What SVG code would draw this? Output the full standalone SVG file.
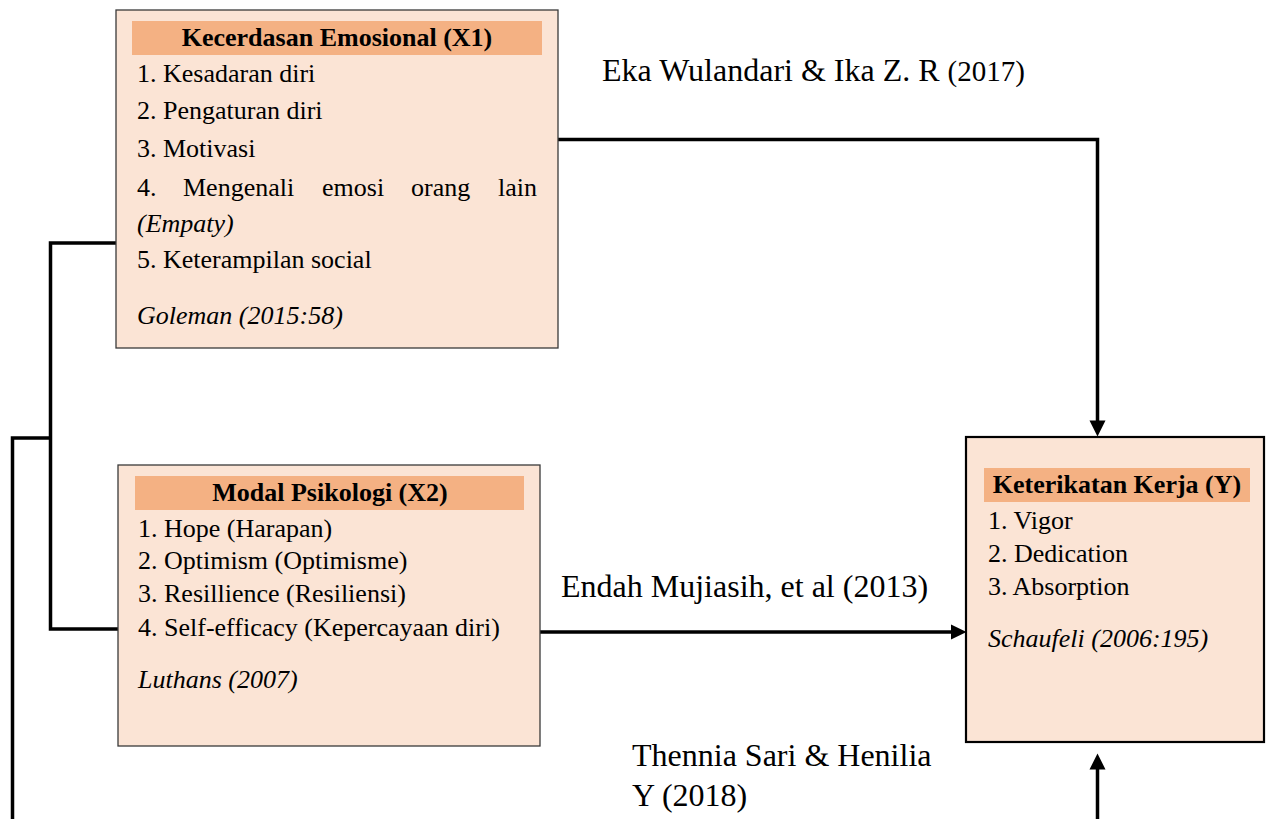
<svg xmlns="http://www.w3.org/2000/svg" width="1266" height="819" viewBox="0 0 1266 819">
  <defs>
    <style>
      text { font-family: "Liberation Serif", "Times New Roman", serif; fill: #000; }
      .box { fill: #FBE4D5; stroke: #3a3a3a; stroke-width: 1.3; }
      .boxy { fill: #FBE4D5; stroke: #000; stroke-width: 2.2; }
      .hdr { fill: #F4B183; stroke: none; }
      .title { font-size: 26px; font-weight: bold; text-anchor: middle; }
      .item { font-size: 26px; }
      .it { font-style: italic; }
      .lbl { font-size: 32px; }
      .conn { fill: none; stroke: #000; stroke-width: 3.5; stroke-linejoin: miter; stroke-linecap: butt; }
      .ah { fill: #000; stroke: none; }
    </style>
  </defs>
  <rect x="0" y="0" width="1266" height="819" fill="#fff"/>

  <g id="connectors">
    <polyline class="conn" points="116,243 50.5,243 50.5,629 118,629"/>
    <polyline class="conn" points="50.5,438 12.5,438 12.5,819"/>
    <polyline class="conn" points="558,139.5 1097.5,139.5 1097.5,422"/>
    <polygon class="ah" points="1089.5,420.5 1105.5,420.5 1097.5,436.5"/>
    <line class="conn" x1="540" y1="632" x2="952" y2="632"/>
    <polygon class="ah" points="951,624.5 951,639.5 966.5,632"/>
    <line class="conn" x1="1097.5" y1="819" x2="1097.5" y2="768"/>
    <polygon class="ah" points="1089.5,769.5 1105.5,769.5 1097.5,753.5"/>
  </g>

  <g id="node-x1">
    <rect class="box" x="116" y="10" width="442" height="338"/>
    <rect class="hdr" x="132" y="21" width="410" height="34"/>
    <text class="title" x="337" y="46">Kecerdasan Emosional (X1)</text>
    <text class="item" x="137" y="82">1. Kesadaran diri</text>
    <text class="item" x="137" y="119">2. Pengaturan diri</text>
    <text class="item" x="137" y="157">3. Motivasi</text>
    <text class="item" y="196"><tspan x="137">4.</tspan><tspan x="183">Mengenali</tspan><tspan x="322">emosi</tspan><tspan x="411">orang</tspan><tspan x="498">lain</tspan></text>
    <text class="item it" x="137" y="232">(Empaty)</text>
    <text class="item" x="137" y="268">5. Keterampilan social</text>
    <text class="item it" x="137" y="324">Goleman (2015:58)</text>
  </g>

  <g id="node-x2">
    <rect class="box" x="118" y="465" width="422" height="281"/>
    <rect class="hdr" x="135" y="476" width="389" height="34"/>
    <text class="title" x="330" y="501">Modal Psikologi (X2)</text>
    <text class="item" x="138" y="537">1. Hope (Harapan)</text>
    <text class="item" x="138" y="569">2. Optimism (Optimisme)</text>
    <text class="item" x="138" y="602">3. Resillience (Resiliensi)</text>
    <text class="item" x="138" y="636">4. Self-efficacy (Kepercayaan diri)</text>
    <text class="item it" x="138" y="688">Luthans (2007)</text>
  </g>

  <g id="node-y">
    <rect class="boxy" x="966" y="437" width="298" height="305"/>
    <rect class="hdr" x="984" y="468" width="266" height="34"/>
    <text class="title" x="1117" y="493">Keterikatan Kerja (Y)</text>
    <text class="item" x="988" y="529">1. Vigor</text>
    <text class="item" x="988" y="562">2. Dedication</text>
    <text class="item" x="988" y="595">3. Absorption</text>
    <text class="item it" x="988" y="647">Schaufeli (2006:195)</text>
  </g>

  <g id="labels">
    <text class="lbl" x="602" y="81">Eka Wulandari &amp; Ika Z. R <tspan font-size="29">(2017)</tspan></text>
    <text class="lbl" x="561" y="597">Endah Mujiasih, et al (2013)</text>
    <text class="lbl" x="632" y="766">Thennia Sari &amp; Henilia</text>
    <text class="lbl" x="632" y="806">Y (2018)</text>
  </g>
</svg>
